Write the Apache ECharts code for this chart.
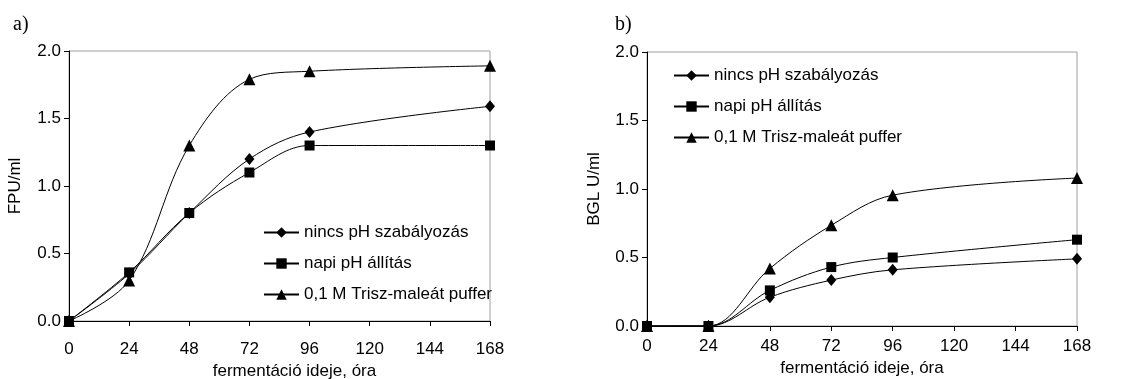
<!DOCTYPE html>
<html>
<head>
<meta charset="utf-8">
<style>
  html, body { margin: 0; padding: 0; background: #fff; }
  #chart { width: 1130px; height: 379px; }
</style>
<script src="https://cdn.jsdelivr.net/npm/echarts@6/dist/echarts.min.js"></script>
</head>
<body>
<div id="chart"></div>
<script>
// Fermentation time (hours) at which samples were taken
const hours = [0, 24, 48, 72, 96, 168];
const xTicks = [0, 24, 48, 72, 96, 120, 144, 168];
const yTicks = [0.0, 0.5, 1.0, 1.5, 2.0];

const seriesNames = ['nincs pH szabályozás', 'napi pH állítás', '0,1 M Trisz-maleát puffer'];

// a) FPU/ml
const fpuNoControl = [0, 0.35, 0.80, 1.20, 1.40, 1.59];
const fpuDailyPh   = [0, 0.36, 0.80, 1.10, 1.30, 1.30];
const fpuBuffer    = [0, 0.30, 1.30, 1.79, 1.85, 1.89];

// b) BGL U/ml
const bglNoControl = [0, 0, 0.21, 0.335, 0.41, 0.49];
const bglDailyPh   = [0, 0, 0.26, 0.43, 0.50, 0.63];
const bglBuffer    = [0, 0, 0.42, 0.735, 0.955, 1.08];

const FONT = 'Liberation Sans, Arial, sans-serif';
const pairs = (vals) => hours.map((h, i) => [h, vals[i]]);

const symbols = [
  { symbol: 'diamond', symbolSize: [10, 12], z: 3 },
  { symbol: 'rect', symbolSize: 10, z: 4 },
  { symbol: 'triangle', symbolSize: 12, z: 2 }
];

function makeSeries(idx, valuesList) {
  return valuesList.map((vals, k) => ({
    name: seriesNames[k],
    type: 'line',
    xAxisIndex: idx,
    yAxisIndex: idx,
    data: pairs(vals),
    smooth: 0.35,
    symbol: symbols[k].symbol,
    symbolSize: symbols[k].symbolSize,
    z: symbols[k].z,
    showAllSymbol: true,
    lineStyle: { color: '#000', width: 1 },
    itemStyle: { color: '#000', borderWidth: 0 },
    emphasis: { disabled: true },
    animation: false
  }));
}

function xAxis(idx, gap, shift, labelMargin) {
  return {
    type: 'value', gridIndex: idx, min: xTicks[0], max: xTicks[xTicks.length - 1], interval: 24,
    name: 'fermentáció ideje, óra', nameLocation: 'middle', nameGap: gap,
    nameTextStyle: { color: '#000', fontFamily: FONT, fontSize: 17, padding: [0, 0, 0, shift] },
    axisLine: { show: true, lineStyle: { color: '#000', width: 1 } },
    axisTick: { show: true, inside: false, length: 5, lineStyle: { color: '#000' } },
    axisLabel: { color: '#000', fontFamily: FONT, fontSize: 17, margin: labelMargin },
    splitLine: { show: false }
  };
}

function yAxis(idx, name, gap) {
  return {
    type: 'value', gridIndex: idx, min: yTicks[0], max: yTicks[yTicks.length - 1], interval: 0.5,
    name: name, nameLocation: 'middle', nameGap: gap, nameRotate: 90,
    nameTextStyle: { color: '#000', fontFamily: FONT, fontSize: 17 },
    axisLine: { show: true, lineStyle: { color: '#000', width: 1 } },
    axisTick: { show: true, inside: false, length: 5, lineStyle: { color: '#000' } },
    axisLabel: { color: '#000', fontFamily: FONT, fontSize: 17, margin: 8,
                 formatter: (v) => v.toFixed(1) },
    splitLine: { show: false }
  };
}

function legend(left, top) {
  return {
    data: seriesNames, orient: 'vertical', left: left, top: top,
    itemWidth: 35, itemHeight: 13, itemGap: 14,
    selectedMode: false,
    textStyle: { color: '#000', fontFamily: FONT, fontSize: 17, lineHeight: 17 }
  };
}

const chart = echarts.init(document.getElementById('chart'), null, { renderer: 'canvas' });
chart.setOption({
  backgroundColor: '#fff',
  animation: false,
  title: [
    { text: 'a)', left: 8, top: 10, textStyle: { fontFamily: 'Liberation Serif, Times New Roman, serif', fontSize: 20, fontWeight: 'normal', color: '#000' } },
    { text: 'b)', left: 610, top: 10, textStyle: { fontFamily: 'Liberation Serif, Times New Roman, serif', fontSize: 20, fontWeight: 'normal', color: '#000' } }
  ],
  grid: [
    { left: 69, top: 51, width: 421, height: 270, outerBoundsMode: 'none', containLabel: false,
      show: true, borderColor: '#a0a0a0', borderWidth: 1, backgroundColor: 'transparent' },
    { left: 647, top: 52, width: 430, height: 274, outerBoundsMode: 'none', containLabel: false,
      show: true, borderColor: '#a0a0a0', borderWidth: 1, backgroundColor: 'transparent' }
  ],
  xAxis: [xAxis(0, 38, 30, 20), xAxis(1, 33, 0, 12)],
  yAxis: [yAxis(0, 'FPU/ml', 45), yAxis(1, 'BGL U/ml', 44)],
  legend: [legend(258, 219), legend(668, 62)],
  series: [
    ...makeSeries(0, [fpuNoControl, fpuDailyPh, fpuBuffer]),
    ...makeSeries(1, [bglNoControl, bglDailyPh, bglBuffer])
  ]
});
</script>
</body>
</html>
